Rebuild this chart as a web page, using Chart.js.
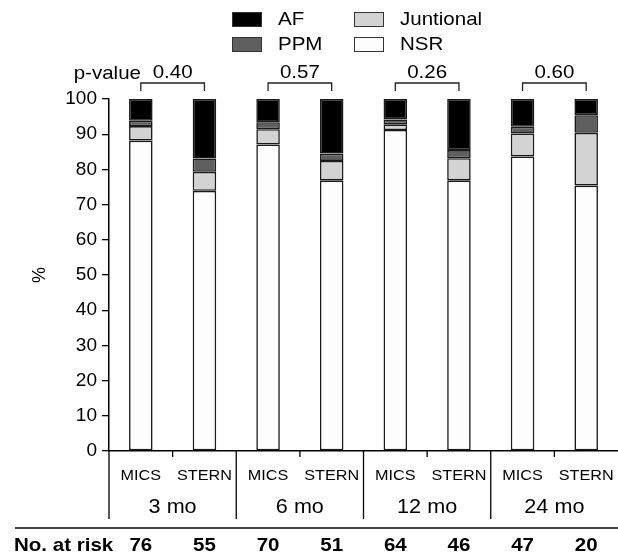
<!DOCTYPE html>
<html>
<head>
<meta charset="utf-8">
<script src="https://cdn.jsdelivr.net/npm/chart.js@4/dist/chart.umd.min.js"></script>
<style>
  html, body { margin: 0; padding: 0; background: #fff; }
  canvas { display: block; }
</style>
</head>
<body>
<canvas id="rhythmChart" width="618" height="560"></canvas>
<script>
/* ===== Data ===== */
const armLabels = ["MICS", "STERN", "MICS", "STERN", "MICS", "STERN", "MICS", "STERN"];
const periodLabels = ["3 mo", "6 mo", "12 mo", "24 mo"];
const pValues = ["0.40", "0.57", "0.26", "0.60"];
const atRisk = [76, 55, 70, 51, 64, 46, 47, 20];

const nsr        = [88.2, 73.9, 87.1, 76.9, 91.2, 76.9, 83.7, 75.4];
const junctional = [4.1, 5.4, 4.3, 5.5, 1.6, 6.3, 6.5, 15.0];
const ppm        = [1.5, 3.8, 2.0, 2.1, 1.4, 2.3, 1.9, 5.0];
const af         = [6.2, 16.9, 6.6, 15.5, 5.8, 14.5, 7.9, 4.6];

const FONT = "'Liberation Sans', Arial, Helvetica, sans-serif";

/* ===== Helpers ===== */
function ds(label, data, color){
  return {
    label, data,
    backgroundColor: color,
    borderColor: "#1a1a1a",
    borderWidth: 1.6,
    borderSkipped: false,
    barPercentage: 0.37,
    categoryPercentage: 1.0
  };
}

// text slightly stretched sideways, like the source figure
function txt(ctx, s, x, y, align){
  const sx = 1.08;
  ctx.save();
  ctx.translate(x, y);
  ctx.scale(sx, 1);
  ctx.textAlign = align || "center";
  ctx.fillText(s, 0, 0);
  ctx.restore();
}

/* ===== Annotations drawn around the plot ===== */
const annotations = {
  id: "annotations",
  afterDraw(chart){
    const ctx = chart.ctx;
    const x = chart.scales.x;
    const area = chart.chartArea;
    const catW = (area.right - area.left) / armLabels.length;
    const sets = chart.data.datasets;
    ctx.save();
    ctx.fillStyle = "#000";
    ctx.strokeStyle = "#000";
    ctx.textBaseline = "middle";

    // legend (2 columns)
    const legendItems = [
      { label: "AF", color: sets[3].backgroundColor, col: 0, row: 0 },
      { label: "PPM", color: sets[2].backgroundColor, col: 0, row: 1 },
      { label: "Juntional", color: sets[1].backgroundColor, col: 1, row: 0 },
      { label: "NSR", color: sets[0].backgroundColor, col: 1, row: 1 }
    ];
    ctx.font = "19px " + FONT;
    legendItems.forEach(it=>{
      const bx = 232 + it.col * 122;
      const by = 12 + it.row * 25;
      ctx.fillStyle = it.color;
      ctx.fillRect(bx, by, 30, 15);
      ctx.lineWidth = 1;
      ctx.strokeStyle = "#333";
      ctx.strokeRect(bx + 0.5, by + 0.5, 29, 14);
      ctx.fillStyle = "#000";
      txt(ctx, it.label, bx + 46, by + 8, "left");
    });

    // p-value brackets
    ctx.font = "19px " + FONT;
    txt(ctx, "p-value", 141, 74, "right");
    ctx.lineWidth = 1.3;
    ctx.strokeStyle = "#222";
    pValues.forEach((p, i)=>{
      const x1 = x.getPixelForValue(i * 2);
      const x2 = x.getPixelForValue(i * 2 + 1);
      ctx.beginPath();
      ctx.moveTo(x1, 91);
      ctx.lineTo(x1, 83);
      ctx.lineTo(x2, 83);
      ctx.lineTo(x2, 91);
      ctx.stroke();
      txt(ctx, p, (x1 + x2) / 2, 73);
    });

    // group separators and ticks below axis
    ctx.strokeStyle = "#000";
    ctx.lineWidth = 1.3;
    for (let g = 0; g < periodLabels.length; g++){
      const sx = area.left + g * 2 * catW;
      ctx.beginPath();
      ctx.moveTo(sx, area.bottom);
      ctx.lineTo(sx, 519);
      ctx.stroke();
      const mx = area.left + (g * 2 + 1) * catW;
      ctx.beginPath();
      ctx.moveTo(mx, area.bottom);
      ctx.lineTo(mx, area.bottom + 6);
      ctx.stroke();
    }

    // arm labels
    ctx.font = "15px " + FONT;
    armLabels.forEach((lab, i)=>{
      txt(ctx, lab, x.getPixelForValue(i), 476);
    });

    // period labels
    ctx.font = "20px " + FONT;
    periodLabels.forEach((lab, g)=>{
      txt(ctx, lab, area.left + (g * 2 + 1) * catW, 507);
    });

    // line above at-risk row
    ctx.strokeStyle = "#444";
    ctx.lineWidth = 2;
    ctx.beginPath();
    ctx.moveTo(15, 528);
    ctx.lineTo(618, 528);
    ctx.stroke();

    // numbers at risk
    ctx.font = "bold 19px " + FONT;
    txt(ctx, "No. at risk", 14, 546, "left");
    atRisk.forEach((n, i)=>{
      txt(ctx, String(n), x.getPixelForValue(i), 546);
    });

    ctx.restore();
  }
};

/* ===== Chart ===== */
new Chart(document.getElementById("rhythmChart"), {
  type: "bar",
  data: {
    labels: armLabels,
    datasets: [
      ds("NSR", nsr, "#fdfdfd"),
      ds("Juntional", junctional, "#d3d3d3"),
      ds("PPM", ppm, "#5f5f5f"),
      ds("AF", af, "#000000")
    ]
  },
  options: {
    responsive: false,
    animation: false,
    layout: { padding: { top: 99, right: 0, left: 0, bottom: 0 } },
    plugins: {
      legend: { display: false },
      tooltip: { enabled: false }
    },
    scales: {
      x: {
        stacked: true,
        ticks: { display: false },
        grid: { display: false, drawTicks: false },
        border: { color: "#000", width: 1.5 },
        afterFit: (s)=>{ s.height = 109; }
      },
      y: {
        stacked: true,
        min: 0, max: 100,
        ticks: { stepSize: 10, color: "#000", padding: 5, font: { size: 19, family: FONT } },
        grid: { drawOnChartArea: false, drawTicks: true, tickLength: 7, color: "#000", lineWidth: 1.3 },
        border: { color: "#000", width: 1.5 },
        title: { display: true, text: "%", color: "#000", font: { size: 18, family: FONT }, padding: { top: 29 } },
        afterFit: (s)=>{ s.width = 109; }
      }
    }
  },
  plugins: [annotations]
});
</script>
</body>
</html>
